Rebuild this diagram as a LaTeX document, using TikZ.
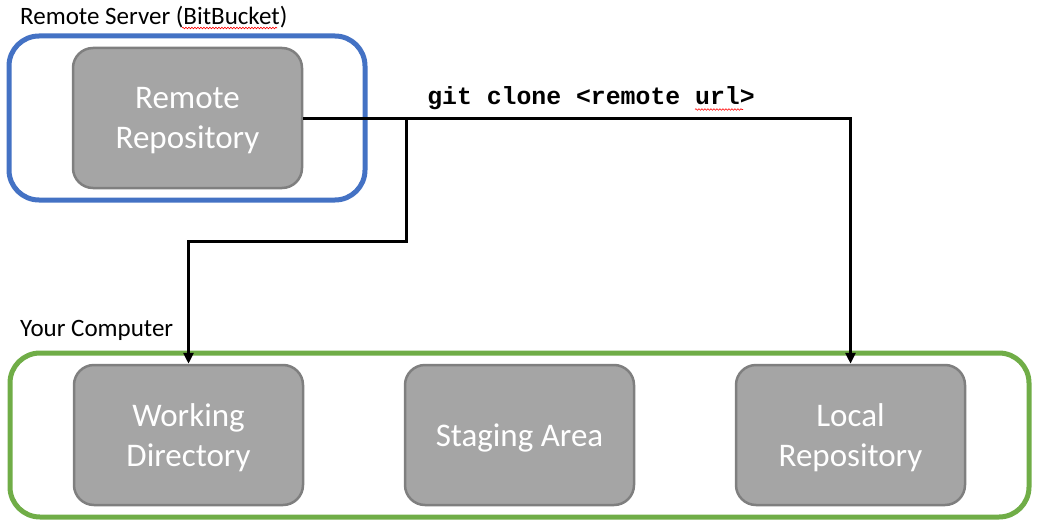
\documentclass[tikz,border=0pt]{standalone}
\usepackage{fontspec}
\setmainfont{Carlito}
\newfontfamily\codefont{Liberation Mono}
\usetikzlibrary{arrows.meta,decorations.pathmorphing}
\definecolor{boxfill}{HTML}{A5A5A5}
\definecolor{boxline}{HTML}{7F7F7F}
\definecolor{serverblue}{HTML}{4472C4}
\definecolor{compgreen}{HTML}{70AD47}
\tikzset{
  repobox/.style={draw=boxline, line width=2.5pt, fill=boxfill, rounded corners=20pt,
    minimum width=229pt, minimum height=140pt, inner sep=0pt},
  repotext/.style={text=white, align=center, font=\fontsize{33}{40}\selectfont, inner sep=0pt},
  groupbox/.style={line width=5pt, rounded corners=30pt},
  grouplabel/.style={anchor=base west, inner sep=0pt, font=\fontsize{25}{30}\selectfont},
  flow/.style={line width=3pt, line cap=butt},
  flowarrow/.style={flow, -{Triangle[length=11pt,width=10pt]}},
  spell/.style={draw=red, line width=0.6pt, decorate, decoration={snake, amplitude=0.8pt, segment length=3pt}}
}
\begin{document}
\begin{tikzpicture}[x=1pt,y=-1pt]
\useasboundingbox (0,0) rectangle (1038,527);
% group boxes
\draw[groupbox, draw=serverblue] (9,36) rectangle (365,200);
\draw[groupbox, draw=compgreen] (10,353) rectangle (1029,517);
\node[grouplabel] (serverlbl) at (20,25) {Remote Server (BitBucket)};
\node[grouplabel] (complbl) at (20,336) {Your Computer};
\draw[spell] (182,28) -- (277,28);
% repositories
\node[repobox] (rr) at (187.5,118) {};
\node[repobox] (wd) at (188.5,435) {};
\node[repobox] (sa) at (519.5,435) {};
\node[repobox] (lr) at (850.5,435) {};
\node[repotext] (rrt) at ([yshift=-2.5pt]rr.center) {Remote\\Repository};
\node[repotext] (wdt) at ([yshift=-2.5pt]wd.center) {Working\\Directory};
\node[repotext] (sat) at ([yshift=-2.5pt]sa.center) {Staging Area};
\node[repotext] (lrt) at ([yshift=-2.5pt]lr.center) {Local\\Repository};
% connectors
\coordinate (branch) at (406,118);
\coordinate (bend) at (406,241);
\draw[flowarrow] (rr.east) -| (lr.north);
\draw[flowarrow] (branch) -- (bend) -| (wd.north);
\node[anchor=base, inner sep=0pt, font=\codefont\bfseries\fontsize{24.8}{29}\selectfont] (cmd) at (591,104) {git clone <remote url>};
\draw[spell] (695,109.5) -- (743,109.5);
\end{tikzpicture}
\end{document}
